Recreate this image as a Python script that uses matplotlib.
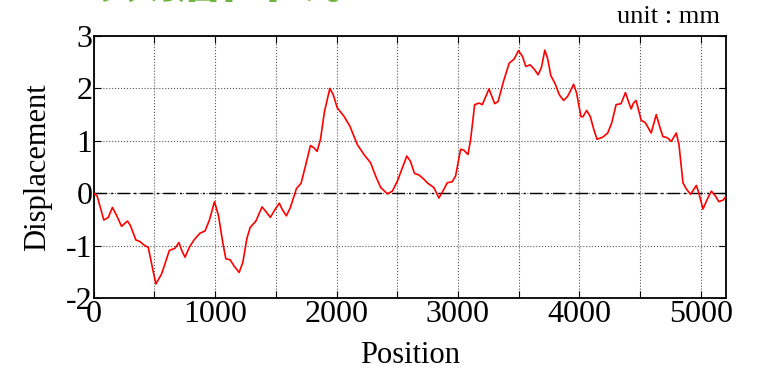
import matplotlib
matplotlib.use("Agg")
import matplotlib.pyplot as plt
import numpy as np

# values
position = [
    0, 28, 83, 120, 154, 190, 229, 278, 303, 347, 380, 421, 449, 480, 512,
    559, 623, 669, 702, 725, 752, 788, 826, 876, 917, 953, 995, 1028, 1063,
    1088, 1124, 1157, 1198, 1228, 1262, 1289, 1336, 1386, 1419, 1455, 1496,
    1529, 1551, 1587, 1620, 1670, 1708, 1744, 1785, 1813, 1840, 1868, 1901,
    1945, 1973, 2006, 2061, 2110, 2171, 2226, 2281, 2322, 2364, 2419, 2460,
    2501, 2543, 2579, 2609, 2642, 2678, 2719, 2752, 2802, 2843, 2876, 2912,
    2953, 2981, 3022, 3050, 3083, 3105, 3138, 3174, 3201, 3256, 3303, 3331,
    3375, 3422, 3463, 3499, 3532, 3559, 3595, 3628, 3661, 3689, 3716, 3738,
    3766, 3799, 3835, 3871, 3904, 3931, 3953, 3978, 4014, 4030, 4061, 4091,
    4119, 4146, 4193, 4234, 4267, 4303, 4344, 4380, 4405, 4427, 4446, 4468,
    4510, 4543, 4592, 4634, 4661, 4689, 4725, 4758, 4799, 4821, 4854, 4882,
    4917, 4945, 4964, 4984, 5019, 5055, 5088, 5121, 5149, 5185, 5210,
]
displacement = [
    0.00, -0.05, -0.51, -0.46, -0.27, -0.43, -0.63, -0.53, -0.62, -0.89,
    -0.92, -1.00, -1.03, -1.38, -1.73, -1.54, -1.09, -1.05, -0.94, -1.09,
    -1.22, -1.03, -0.89, -0.76, -0.72, -0.51, -0.16, -0.43, -0.94, -1.25,
    -1.27, -1.39, -1.51, -1.32, -0.86, -0.65, -0.53, -0.26, -0.35, -0.46,
    -0.30, -0.19, -0.30, -0.43, -0.27, 0.09, 0.19, 0.52, 0.91, 0.87, 0.80,
    1.03, 1.56, 2.00, 1.88, 1.63, 1.47, 1.28, 0.93, 0.74, 0.58, 0.33, 0.11,
    -0.01, 0.04, 0.23, 0.49, 0.71, 0.61, 0.38, 0.35, 0.27, 0.19, 0.11,
    -0.09, 0.04, 0.20, 0.22, 0.33, 0.84, 0.82, 0.74, 1.03, 1.69, 1.72,
    1.69, 1.99, 1.71, 1.75, 2.13, 2.48, 2.56, 2.72, 2.61, 2.42, 2.45, 2.37,
    2.26, 2.41, 2.73, 2.58, 2.24, 2.10, 1.88, 1.77, 1.85, 1.97, 2.08, 1.91,
    1.46, 1.46, 1.58, 1.46, 1.22, 1.03, 1.07, 1.15, 1.34, 1.69, 1.71, 1.92,
    1.75, 1.61, 1.72, 1.77, 1.39, 1.35, 1.15, 1.50, 1.28, 1.08, 1.06, 0.99,
    1.15, 0.93, 0.20, 0.08, -0.02, 0.08, 0.15, 0.01, -0.30, -0.11, 0.04,
    -0.05, -0.16, -0.13, -0.05,
]
x_ticks = [0, 1000, 2000, 3000, 4000, 5000]
y_ticks = [-2, -1, 0, 1, 2, 3]

plt.rcParams["font.family"] = ["Liberation Serif", "DejaVu Serif"]
plt.rcParams["axes.unicode_minus"] = False

fig = plt.figure(figsize=(7.62, 3.75), dpi=100)
ax = fig.add_axes([0.123, 0.205, 0.83, 0.699])

ax.plot(position, displacement, color="#ff0000", lw=1.2, zorder=3)
ax.axhline(0, color="black", lw=1.0, linestyle=(0, (9, 3, 1.5, 3)), zorder=2)

ax.set_xlim(0, 5210)
ax.set_ylim(-2, 3)
ax.set_xticks(x_ticks)
ax.set_xticks(np.arange(500, 5210, 1000), minor=True)
ax.set_yticks(y_ticks)
ax.tick_params(which="both", direction="in", top=True, right=True,
               length=5, width=0.8, labelsize=23, pad=1)
ax.grid(True, which="both", linestyle=":", color="#555555", lw=0.8)
for s in ax.spines.values():
    s.set_linewidth(1.3)

ax.set_xlabel("Position", fontsize=22, labelpad=9)
ax.set_ylabel("Displacement", fontsize=22, labelpad=10)

fig.text(0.945, 0.925, "unit : mm", fontsize=19, ha="right", va="bottom")
# title sits mostly above the top edge, only its foot shows
fig.text(0.13, 1.009, "数据曲线", fontsize=44, color="#6db33f",
         fontweight="bold", va="baseline",
         family=["Noto Sans CJK SC", "DejaVu Sans"])

fig.savefig("out.png", dpi=100)
